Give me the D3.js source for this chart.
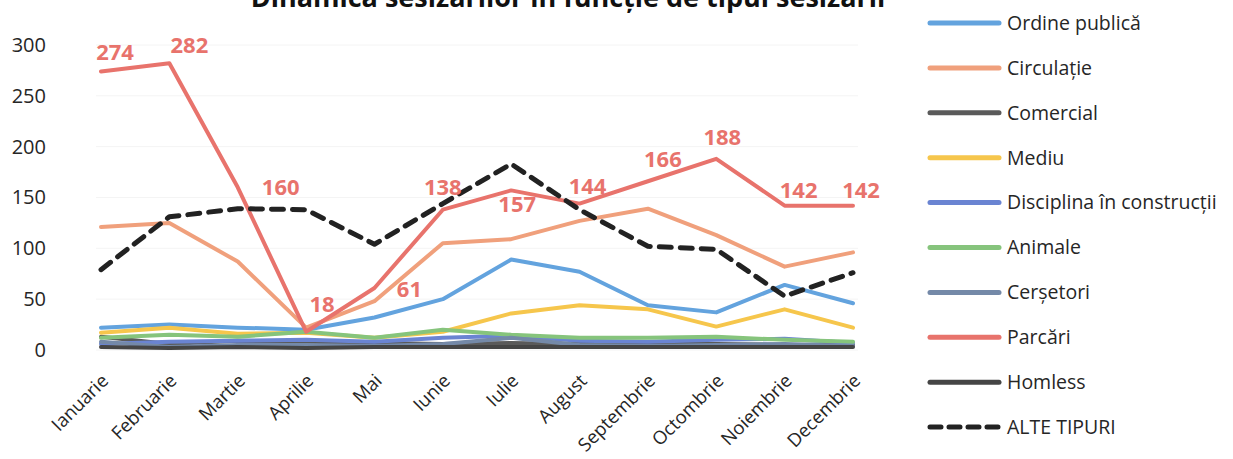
<!DOCTYPE html>
<html>
<head>
<meta charset="utf-8">
<script src="https://cdn.jsdelivr.net/npm/d3@7"></script>
<style>
  body { margin: 0; background: #fff; }
  svg, svg text { font-family: "Open Sans", "Noto Sans", sans-serif; }
</style>
</head>
<body>
<div id="chart"></div>
<script>
// months on the x axis
var months = ["Ianuarie", "Februarie", "Martie", "Aprilie", "Mai", "Iunie", "Iulie",
              "August", "Septembrie", "Octombrie", "Noiembrie", "Decembrie"];

var yTicks = [0, 50, 100, 150, 200, 250, 300];

// values per series
var ordinePublica = [22, 25, 22, 20, 32, 50, 89, 77, 44, 37, 64, 46];
var circulatie    = [121, 125, 87, 22, 48, 105, 109, 127, 139, 113, 82, 96];
var comercial     = [13, 6, 9, 8, 7, 6, 7, 6, 6, 6, 5, 5];
var mediu         = [17, 22, 16, 17, 12, 18, 36, 44, 40, 23, 40, 22];
var disciplina    = [6, 8, 9, 10, 8, 12, 14, 9, 8, 10, 11, 7];
var animale       = [12, 15, 13, 18, 12, 20, 15, 12, 12, 13, 10, 8];
var cersetori     = [8, 3, 5, 5, 4, 6, 12, 5, 4, 5, 6, 4];
var parcari       = [274, 282, 160, 18, 61, 138, 157, 144, 166, 188, 142, 142];
var homless       = [3, 2, 3, 2, 3, 3, 3, 3, 3, 3, 3, 3];
var alteTipuri    = [79, 131, 139, 138, 104, 144, 183, 138, 102, 99, 53, 76];

var seriesNames = ["Ordine publică", "Circulație", "Comercial", "Mediu",
                   "Disciplina în construcții", "Animale", "Cerșetori",
                   "Parcări", "Homless", "ALTE TIPURI"];
var seriesValues = [ordinePublica, circulatie, comercial, mediu, disciplina,
                    animale, cersetori, parcari, homless, alteTipuri];
var seriesColors = ["#63a3de", "#f0a07c", "#5a5a5a", "#f6c64c", "#6a84d2",
                    "#86c47c", "#7489a8", "#e8736c", "#454545", "#222222"];

var width = 1233, height = 459;
var margin = {top: 45, left: 101, right: 380, bottom: 109};

var svg = d3.select("#chart").append("svg")
    .attr("width", width)
    .attr("height", height);

var x = d3.scalePoint()
    .domain(months)
    .range([margin.left, width - margin.right]);

var y = d3.scaleLinear()
    .domain([0, 300])
    .range([height - margin.bottom, margin.top]);

// title, cut off at the top of the picture like in the original
svg.append("text")
    .attr("x", 568)
    .attr("y", 7)
    .attr("text-anchor", "middle")
    .style("font-size", "27px")
    .style("font-weight", "bold")
    .style("fill", "#111")
    .text("Dinamica sesizărilor în funcție de tipul sesizării");

// faint gridlines
svg.append("g")
    .selectAll("line")
    .data(yTicks)
    .enter()
    .append("line")
    .attr("x1", margin.left - 5)
    .attr("x2", width - margin.right + 5)
    .attr("y1", function(d){ return y(d); })
    .attr("y2", function(d){ return y(d); })
    .attr("stroke", "#f4f4f4")
    .attr("stroke-width", 1);

// y axis labels
var yAxis = svg.append("g")
    .attr("transform", "translate(46,0)")
    .call(d3.axisLeft(y).tickValues(yTicks).tickSize(0).tickPadding(0));
yAxis.select(".domain").remove();
yAxis.attr("font-family", null).attr("font-size", null);
yAxis.selectAll("text")
    .style("font-size", "20px")
    .style("fill", "#262626");

// x axis labels, rotated
var xAxis = svg.append("g")
    .attr("transform", "translate(0," + y(0) + ")")
    .call(d3.axisBottom(x).tickSize(0).tickPadding(0));
xAxis.select(".domain").remove();
xAxis.attr("font-family", null).attr("font-size", null);
xAxis.selectAll("text")
    .style("font-size", "18.5px")
    .style("fill", "#262626")
    .attr("text-anchor", "end")
    .attr("y", 0)
    .attr("dy", 0)
    .attr("transform", "translate(8,32) rotate(-45)");

var line = d3.line()
    .x(function(d, i){ return x(months[i]); })
    .y(function(d){ return y(d); });

svg.append("g")
    .selectAll("path")
    .data(seriesValues)
    .enter()
    .append("path")
    .attr("d", line)
    .attr("fill", "none")
    .attr("stroke", function(d, i){ return seriesColors[i]; })
    .attr("stroke-width", function(d, i){ return i == 9 ? 5 : 4; })
    .attr("stroke-dasharray", function(d, i){ return i == 9 ? "12,9" : null; })
    .attr("stroke-linecap", "round")
    .attr("stroke-linejoin", "round");

// data labels for Parcări (nudges where the original moved them)
var labelNudge = [[14, -11], [20, -10], [43, 8], [16, -20], [35, 9], [0, -15],
                  [6, 22], [8, -10], [15, -14], [6, -14], [14, -8], [8, -8]];
svg.append("g")
    .selectAll("text")
    .data(parcari)
    .enter()
    .append("text")
    .attr("x", function(d, i){ return x(months[i]) + labelNudge[i][0]; })
    .attr("y", function(d, i){ return y(d) + labelNudge[i][1]; })
    .attr("text-anchor", "middle")
    .style("font-size", "22px")
    .style("font-weight", "bold")
    .style("fill", "#e8736c")
    .text(function(d){ return d; });

// legend
var legend = svg.append("g")
    .attr("transform", "translate(928,23)");

var item = legend.selectAll("g")
    .data(seriesNames)
    .enter()
    .append("g")
    .attr("transform", function(d, i){ return "translate(0," + (i * 44.9) + ")"; });

item.append("line")
    .attr("x1", 2)
    .attr("x2", 71)
    .attr("stroke", function(d, i){ return seriesColors[i]; })
    .attr("stroke-width", 5)
    .attr("stroke-dasharray", function(d, i){ return i == 9 ? "11,8" : null; })
    .attr("stroke-linecap", "round");

item.append("text")
    .attr("x", 79)
    .attr("dy", "0.35em")
    .style("font-size", "19.5px")
    .style("fill", "#262626")
    .text(function(d){ return d; });
</script>
</body>
</html>
